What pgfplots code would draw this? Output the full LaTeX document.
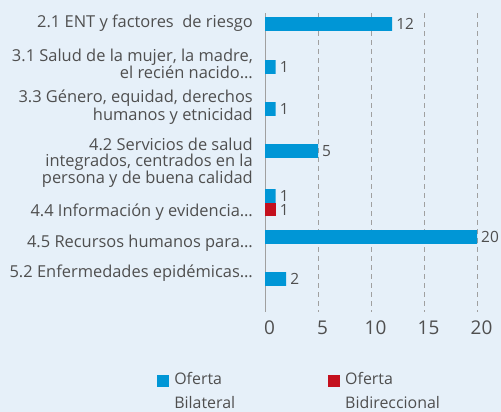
\documentclass[border=0pt]{standalone}
\usepackage{pgfplots}
\pgfplotsset{compat=1.18}
\usepackage{fontspec}
\setmainfont{Open Sans}
\definecolor{bg}{HTML}{E6F0F9}
\definecolor{txt}{HTML}{4F4F4F}
\definecolor{blu}{HTML}{0096D6}
\definecolor{rd}{HTML}{C4101E}
\definecolor{gridc}{HTML}{A0A0A0}
\begin{document}
\begin{tikzpicture}
\path[fill=bg,use as bounding box] (0bp,0bp) rectangle (501bp,-412bp);
\begin{axis}[
  at={(265bp,-13bp)}, anchor=north west,
  scale only axis, width=212bp, height=299bp,
  xmin=0, xmax=20, ymin=13, ymax=312, y dir=reverse,
  axis x line*=bottom, x axis line style={draw=none},
  axis y line*=left, y axis line style={draw=gridc, line width=1bp},
  major tick length=0pt,
  xtick={0,5,10,15,20},
  xmajorgrids, grid style={draw=gridc, line width=0.9bp, dash pattern=on 5bp off 4bp},
  /pgf/number format/assume math mode=true,
  xticklabel style={font=\fontsize{19}{19}\selectfont, text=txt, xshift=4.5bp, yshift=-5bp},
  ytick={23.5,64,107,163,212,243,273},
  yticklabels={{2.1 ENT y factores\ \ de riesgo},
    {3.1 Salud de la mujer, la madre,\\el recién nacido…},
    {3.3 Género, equidad, derechos\\humanos y etnicidad},
    {4.2 Servicios de salud\\integrados, centrados en la\\persona y de buena calidad},
    {4.4 Información y evidencia…},
    {4.5 Recursos humanos para…},
    {5.2 Enfermedades epidémicas…}},
  yticklabel style={align=right, font=\fontsize{16.5}{15.2}\selectfont, text=txt, inner sep=0pt, xshift=-12bp},
  xbar, bar width=13.7, bar shift=0pt,
  nodes near coords,
  nodes near coords style={font=\fontsize{15.5}{16}\selectfont, text=txt, anchor=west, inner sep=0pt, xshift=4bp},
  legend columns=2,
  legend image code/.code={\fill[#1] (0bp,4bp) rectangle (12bp,16bp);},
  legend style={draw=none, fill=none, inner sep=0pt, at={(axis description cs:-0.509,-0.194)}, anchor=north west,
    font=\fontsize{16}{24}\selectfont, text=txt, cells={align=left},
    /tikz/every odd column/.append style={column sep=3bp},
    /tikz/every even column/.append style={column sep=91bp}},
]
\addplot[fill=blu, draw=none] coordinates {(12,24) (1,67) (1,109) (5,151) (1,196) (20,237) (2,279)};
\addplot[fill=rd, draw=none] coordinates {(1,209.5)};
\legend{{Oferta\\Bilateral},{Oferta\\Bidireccional}}
\end{axis}
\end{tikzpicture}
\end{document}
